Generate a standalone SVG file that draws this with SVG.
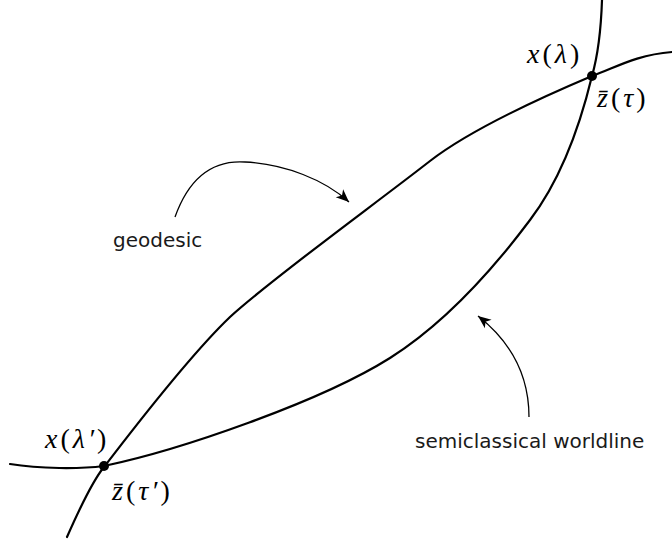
<svg xmlns="http://www.w3.org/2000/svg" width="672" height="542" viewBox="0 0 672 542">
<defs>
<style>
.curve{fill:none;stroke:#000;stroke-width:2.2;stroke-linecap:round}
.pointer{fill:none;stroke:#000;stroke-width:1.3}
.dot{fill:#000}
.lbl{font-family:"DejaVu Sans",Verdana,sans-serif;font-size:20px;fill:#1a1a1a}
.math{font-family:"Liberation Serif","Times New Roman",serif;font-size:28px;fill:#000;letter-spacing:3px}
.it{font-style:italic}
</style>
<marker id="arr" markerUnits="userSpaceOnUse" markerWidth="16" markerHeight="14" viewBox="-14 -7 16 14" refX="0" refY="0" orient="auto">
<path d="M0,0 L-13,-5.5 L-9.5,0 L-13,5.5 Z" fill="#000"/>
</marker>
</defs>
<rect width="672" height="542" fill="#fff"/>
<g id="connectors">
<path id="geodesic-curve" class="curve" d="M67,537 C78,512 91,483 104,467 C125,440 185,360 230,317 C270,280 375,204 430,161 C470,130 540,98 592,76 C615,68 635,55 672,52"/>
<path id="worldline-curve" class="curve" d="M602,0 C601,30 598,55 592,76 C585,105 568,170 530,220 C500,260 450,320 390,358 C320,402 180,450 104,466 C80,469 40,469 10,464"/>
<path id="geodesic-pointer" class="pointer" marker-end="url(#arr)" d="M175,217 C190,175 215,160 245,162 C285,164 325,180 349,202"/>
<path id="worldline-pointer" class="pointer" marker-end="url(#arr)" d="M529,417 C529,380 515,345 478,316"/>
</g>
<g id="event-top">
<circle class="dot" cx="592" cy="76" r="5"/>
<text class="math" x="527" y="63"><tspan class="it">x</tspan>(<tspan class="it">λ</tspan>)</text>
<text class="math" x="597" y="107"><tspan class="it">z̄</tspan>(<tspan class="it">τ</tspan>)</text>
</g>
<g id="event-bottom">
<circle class="dot" cx="104" cy="466" r="5"/>
<text class="math" x="45" y="448"><tspan class="it">x</tspan>(<tspan class="it">λ′</tspan>)</text>
<text class="math" x="112" y="500"><tspan class="it">z̄</tspan>(<tspan class="it">τ′</tspan>)</text>
</g>
<g id="label-geodesic">
<text class="lbl" x="113" y="247">geodesic</text>
</g>
<g id="label-worldline">
<text class="lbl" x="415" y="448">semiclassical worldline</text>
</g>
</svg>
